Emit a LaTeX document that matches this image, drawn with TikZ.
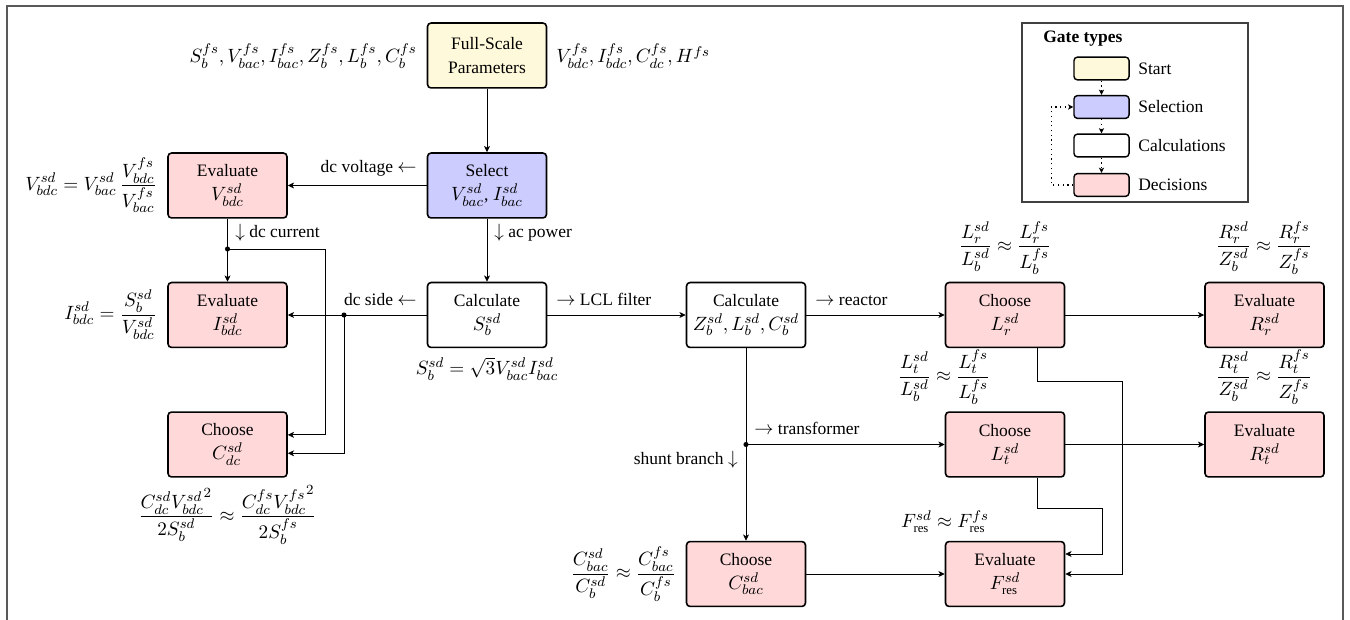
\documentclass[11pt,tikz,border=0pt]{standalone}
\usepackage{fontspec}
\setmainfont{Liberation Serif}[Scale=0.91]
\usetikzlibrary{arrows.meta}
\definecolor{startfill}{RGB}{255,249,219}
\definecolor{selfill}{RGB}{204,204,255}
\definecolor{decfill}{RGB}{255,217,218}
\tikzset{
  gate/.style={draw, line width=0.9pt, rounded corners=2pt, minimum width=67.8pt,
    minimum height=37pt, align=center, inner sep=1.5pt},
  startgate/.style={gate, fill=startfill},
  selgate/.style={gate, fill=selfill},
  calcgate/.style={gate, fill=white},
  decgate/.style={gate, fill=decfill},
  link/.style={-{Stealth[length=3.6pt,width=3.4pt,inset=1pt]}, line width=0.45pt},
  jdot/.style={circle, fill=black, inner sep=0pt, minimum size=2.9pt},
  lbl/.style={inner sep=0pt},
  keybox/.style={draw, line width=0.8pt, rounded corners=2pt, minimum width=31.4pt, minimum height=13pt, inner sep=0pt},
  keylink/.style={-{Stealth[length=3pt,width=3pt,inset=0.8pt]}, dotted, line width=0.7pt},
}
\begin{document}
\begin{tikzpicture}[x=0.57pt,y=-0.57pt]
\useasboundingbox (0,0) rectangle (1350,620);

% page frame
\draw[line width=0.7pt, black!65] (7,620) -- (7,6) -- (1343,6) -- (1343,620);

% gates
\node[startgate] (fs)   at (487,55.5)  {Full-Scale\\Parameters};
\node[selgate]   (sel)  at (487,185.5) {Select\\$V_{bac}^{sd}$, $I_{bac}^{sd}$};
\node[calcgate]  (calS) at (487,315)   {Calculate\\$S_b^{sd}$};
\node[calcgate]  (calZ) at (746,315)   {Calculate\\$Z_b^{sd}, L_b^{sd}, C_b^{sd}$};
\node[decgate]   (evV)  at (227.5,185.5) {Evaluate\\$V_{bdc}^{sd}$};
\node[decgate]   (evI)  at (227.5,315)   {Evaluate\\$I_{bdc}^{sd}$};
\node[decgate]   (choC) at (227.5,444.5) {Choose\\$C_{dc}^{sd}$};
\node[decgate]   (choLr) at (1005,315)   {Choose\\$L_r^{sd}$};
\node[decgate]   (evRr)  at (1264.5,315) {Evaluate\\$R_r^{sd}$};
\node[decgate]   (choLt) at (1005,444.5) {Choose\\$L_t^{sd}$};
\node[decgate]   (evRt)  at (1264.5,444.5) {Evaluate\\$R_t^{sd}$};
\node[decgate]   (choCb) at (746,574)    {Choose\\$C_{bac}^{sd}$};
\node[decgate]   (evF)   at (1005,574)   {Evaluate\\$F_{\mathrm{res}}^{sd}$};

% parameter lists beside the start gate
\node[lbl, anchor=base east] (fsl) at (417,63) {$S_b^{fs}, V_{bac}^{fs}, I_{bac}^{fs}, Z_b^{fs}, L_b^{fs}, C_b^{fs}$};
\node[lbl, anchor=base west] (fsr) at (556,63) {$V_{bdc}^{fs}, I_{bdc}^{fs}, C_{dc}^{fs}, H^{fs}$};

% scaling rules
\node[lbl, anchor=east] (eqV) at (157,185.5) {$\displaystyle V_{bdc}^{sd} = V_{bac}^{sd}\,\frac{V_{bdc}^{fs}}{V_{bac}^{fs}}$};
\node[lbl, anchor=east] (eqI) at (157,315) {$\displaystyle I_{bdc}^{sd} = \frac{S_b^{sd}}{V_{bdc}^{sd}}$};
\node[lbl] (eqC) at (227.5,515) {$\displaystyle \frac{C_{dc}^{sd}{V_{bdc}^{sd}}^2}{2S_b^{sd}} \approx \frac{C_{dc}^{fs}{V_{bdc}^{fs}}^2}{2S_b^{fs}}$};
\node[lbl] (eqS) at (487,369) {$S_b^{sd} = \sqrt{3}V_{bac}^{sd}I_{bac}^{sd}$};
\node[lbl] (eqLr) at (1005,248) {$\displaystyle \frac{L_r^{sd}}{L_b^{sd}} \approx \frac{L_r^{fs}}{L_b^{fs}}$};
\node[lbl] (eqRr) at (1264,248) {$\displaystyle \frac{R_r^{sd}}{Z_b^{sd}} \approx \frac{R_r^{fs}}{Z_b^{fs}}$};
\node[lbl] (eqLt) at (944,377) {$\displaystyle \frac{L_t^{sd}}{L_b^{sd}} \approx \frac{L_t^{fs}}{L_b^{fs}}$};
\node[lbl] (eqRt) at (1264,377) {$\displaystyle \frac{R_t^{sd}}{Z_b^{sd}} \approx \frac{R_t^{fs}}{Z_b^{fs}}$};
\node[lbl] (eqF) at (945,522) {$F_{\mathrm{res}}^{sd} \approx F_{\mathrm{res}}^{fs}$};
\node[lbl, anchor=east] (eqCb) at (676,574) {$\displaystyle \frac{C_{bac}^{sd}}{C_b^{sd}} \approx \frac{C_{bac}^{fs}}{C_b^{fs}}$};

% main flow
\draw[link] (fs) -- (sel);
\draw[link] (sel) -- (evV);
\draw[link] (sel) -- (calS);
\draw[link] (evV) -- (evI);
\draw[link] (calS) -- (evI);
\draw[link] (calS) -- (calZ);
\draw[link] (calZ) -- (choLr);
\draw[link] (calZ) -- (choCb);
\draw[link] (choLr) -- (evRr);
\draw[link] (choLt) -- (evRt);
\draw[link] (choCb) -- (evF);

% branch points
\coordinate (jdc) at (227.5,249);
\coordinate (jds) at (344,315);
\coordinate (jsh) at (calZ |- choLt);
\node[jdot] at (jdc) {};
\node[jdot] at (jds) {};
\node[jdot] at (jsh) {};
\draw[link] (jdc) -- ++(97.5,0) |- ([yshift=5.5pt]choC.east);
\draw[link] (jds) |- ([yshift=-5pt]choC.east);
\draw[link] (jsh) -- (choLt);
\draw[link] ([xshift=18.2pt]choLr.south) -- ++(0,33) -- ++(85,0) |- (evF.east);
\draw[link] ([xshift=18.2pt]choLt.south) -- ++(0,31) -- ++(65,0) |- ([yshift=11.4pt]evF.east);

% connector labels
\node[lbl, anchor=base east] (tdv) at (417,173) {dc voltage $\leftarrow$};
\node[lbl, anchor=base west] (tap) at (494,238) {$\downarrow$ ac power};
\node[lbl, anchor=base west] (tdc) at (235,238) {$\downarrow$ dc current};
\node[lbl, anchor=base east] (tds) at (417,306) {dc side $\leftarrow$};
\node[lbl, anchor=base west] (tlcl) at (556,306) {$\rightarrow$ LCL filter};
\node[lbl, anchor=base west] (trx) at (815,306) {$\rightarrow$ reactor};
\node[lbl, anchor=base west] (ttr) at (754,435) {$\rightarrow$ transformer};
\node[lbl, anchor=base east] (tsh) at (738,465) {shunt branch $\downarrow$};

% key
\draw[line width=0.6pt, black!75] (1022,23) rectangle (1248,202);
\node[lbl, anchor=west] (ktitle) at (1043,39) {\textbf{Gate types}};
\node[keybox, fill=startfill] (kst) at (1101.5,68.5) {};
\node[keybox, fill=selfill]   (ksel) at (1101.5,107) {};
\node[keybox, fill=white]     (kcal) at (1101.5,145.5) {};
\node[keybox, fill=decfill]   (kdec) at (1101.5,185) {};
\node[lbl, anchor=west] at (1138,68.5) {Start};
\node[lbl, anchor=west] at (1138,107) {Selection};
\node[lbl, anchor=west] at (1138,145.5) {Calculations};
\node[lbl, anchor=west] at (1138,185) {Decisions};
\draw[keylink] (kst) -- (ksel);
\draw[keylink] (ksel) -- (kcal);
\draw[keylink] (kcal) -- (kdec);
\draw[keylink] (kdec.west) -- ++(-22,0) |- (ksel.west);
\end{tikzpicture}
\end{document}
